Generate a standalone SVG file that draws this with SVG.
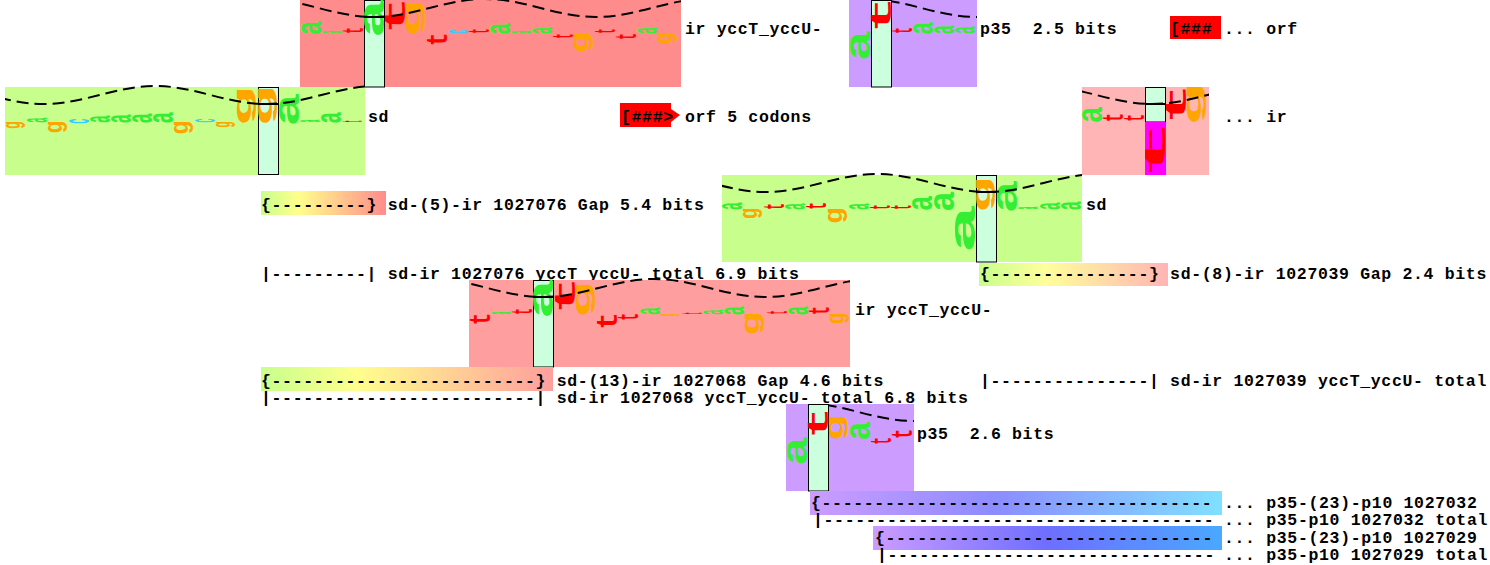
<svg xmlns="http://www.w3.org/2000/svg" width="1490" height="565" viewBox="0 0 1490 565">
<style>
.t{font-family:"Liberation Mono","Courier New",monospace;font-weight:bold;font-size:16.5px;letter-spacing:0.66px;fill:#000;white-space:pre}
.col{fill:#ccffdd;stroke:#000;stroke-width:1}
.wave{fill:none;stroke:#000;stroke-width:2;stroke-dasharray:12 6}
.zl{stroke:#000;stroke-width:2}
.lg{font-family:"Liberation Mono",monospace;font-weight:bold;font-size:10px}
symbol{overflow:visible}
.bg{fill:#c8ff8c}
.p1{fill:#ff8c8c}
.p2{fill:#ff9e9e}
.p3{fill:#ffb5b5}
.pu{fill:#cc9cff}
.orf{fill:#ff0000}
</style>
<defs>
<symbol id="A" viewBox="-5.4 -5.4 5.5 4.6" preserveAspectRatio="none"><text class="lg" fill="#33ee33" transform="rotate(-90)">a</text></symbol>
<symbol id="C" viewBox="-5.4 -5.4 5.5 4.6" preserveAspectRatio="none"><text class="lg" fill="#33ccff" transform="rotate(-90)">c</text></symbol>
<symbol id="G" viewBox="-5.4 -5.4 7.5 4.7" preserveAspectRatio="none"><text class="lg" fill="#ffa500" transform="rotate(-90)">g</text></symbol>
<symbol id="T" viewBox="-6.6 -5.4 6.7 4.9" preserveAspectRatio="none"><text class="lg" fill="#ff0000" transform="rotate(-90)">t</text></symbol>
<path id="wv" d="M-444,9 c20.1,0 37.4,-4.39 55.5,-9 c18.1,-4.61 35.4,-9 55.5,-9 c20.1,0 37.4,4.39 55.5,9 c18.1,4.61 35.4,9 55.5,9 c20.1,0 37.4,-4.39 55.5,-9 c18.1,-4.61 35.4,-9 55.5,-9 c20.1,0 37.4,4.39 55.5,9 c18.1,4.61 35.4,9 55.5,9 c20.1,0 37.4,-4.39 55.5,-9 c18.1,-4.61 35.4,-9 55.5,-9 c20.1,0 37.4,4.39 55.5,9 c18.1,4.61 35.4,9 55.5,9 c20.1,0 37.4,-4.39 55.5,-9 c18.1,-4.61 35.4,-9 55.5,-9 c20.1,0 37.4,4.39 55.5,9 c18.1,4.61 35.4,9 55.5,9"/>
<linearGradient id="gr1"><stop offset="0" stop-color="#c8ff8c"/><stop offset="0.3" stop-color="#ffff8c"/><stop offset="1" stop-color="#ff8c8c"/></linearGradient>
<linearGradient id="gr2"><stop offset="0" stop-color="#c8ff8c"/><stop offset="0.35" stop-color="#ffff9a"/><stop offset="1" stop-color="#ffb5b5"/></linearGradient>
<linearGradient id="gr3"><stop offset="0" stop-color="#c8ff8c"/><stop offset="0.33" stop-color="#ffff8c"/><stop offset="1" stop-color="#ff9e9e"/></linearGradient>
<linearGradient id="gr4"><stop offset="0" stop-color="#cc9cff"/><stop offset="0.45" stop-color="#8c8cff"/><stop offset="1" stop-color="#80e0ff"/></linearGradient>
<linearGradient id="gr5"><stop offset="0" stop-color="#cc9cff"/><stop offset="0.5" stop-color="#6e6eff"/><stop offset="1" stop-color="#4aa8ff"/></linearGradient>
<clipPath id="w1"><rect x="300" y="-5" width="381" height="92"/></clipPath>
<clipPath id="w2"><rect x="891" y="-5" width="86" height="92"/></clipPath>
<clipPath id="w3"><rect x="5" y="83" width="360" height="92"/></clipPath>
<clipPath id="w4"><rect x="1082" y="83" width="127" height="92"/></clipPath>
<clipPath id="w5"><rect x="722" y="171" width="360" height="91"/></clipPath>
<clipPath id="w6"><rect x="469" y="276" width="381" height="91"/></clipPath>
<clipPath id="w7"><rect x="828" y="400" width="86" height="91"/></clipPath>
</defs>

<g id="node-ir-1">
<rect class="p1" x="300" y="0" width="381" height="87"/>
<rect class="col" x="364.5" y="0.5" width="20" height="86.5"/>
<use href="#A" x="301" y="22" width="20" height="11"/>
<use href="#A" x="322" y="31" width="20" height="2"/>
<use href="#T" x="343" y="28" width="20" height="5"/>
<use href="#A" x="364" y="2" width="20" height="31"/>
<use href="#T" x="385" y="0" width="20" height="31"/>
<use href="#G" x="406" y="3" width="20" height="30"/>
<use href="#T" x="427" y="34" width="20" height="11"/>
<use href="#C" x="448" y="30" width="20" height="3"/>
<use href="#T" x="469" y="29" width="20" height="4"/>
<use href="#A" x="490" y="24" width="20" height="9"/>
<use href="#A" x="511" y="31" width="20" height="2"/>
<use href="#A" x="532" y="28" width="20" height="5"/>
<use href="#T" x="553" y="34" width="20" height="4"/>
<use href="#G" x="574" y="34" width="20" height="17"/>
<use href="#T" x="595" y="29" width="20" height="4"/>
<use href="#T" x="616" y="34" width="20" height="5"/>
<use href="#A" x="637" y="28" width="20" height="5"/>
<use href="#G" x="658" y="34" width="20" height="9"/>
<g clip-path="url(#w1)"><use href="#wv" class="wave" transform="translate(374,8)"/></g>
<line class="zl" x1="364" y1="17" x2="385" y2="17"/>
<text class="t" x="685" y="33.5">ir yccT_yccU-</text>
</g>

<g id="node-p35-1">
<rect class="pu" x="849" y="0" width="128" height="87"/>
<rect class="col" x="871.5" y="0.5" width="20" height="86.5"/>
<use href="#A" x="850" y="33" width="20" height="24"/>
<use href="#T" x="871" y="0" width="20" height="30"/>
<use href="#T" x="892" y="28" width="20" height="5"/>
<use href="#A" x="913" y="23" width="20" height="10"/>
<use href="#A" x="934" y="26" width="20" height="7"/>
<use href="#A" x="955" y="27" width="20" height="6"/>
<g clip-path="url(#w2)"><use href="#wv" class="wave" transform="translate(977,8)"/></g>
<text class="t" x="980" y="33.5" xml:space="preserve">p35  2.5 bits</text>
</g>

<g id="node-orf-1">
<rect class="orf" x="1170" y="16" width="51" height="23"/>
<text class="t" x="1170" y="33.5">[###</text>
<text class="t" x="1224" y="33.5">... orf</text>
</g>

<g id="node-sd-1">
<rect class="bg" x="5" y="87" width="360" height="88"/>
<rect class="col" x="258.5" y="87.5" width="20" height="87"/>
<use href="#G" x="6" y="122" width="20" height="6"/>
<use href="#A" x="27" y="118" width="20" height="4"/>
<use href="#G" x="48" y="122" width="20" height="10"/>
<use href="#C" x="69" y="119" width="20" height="4"/>
<use href="#A" x="90" y="116" width="20" height="6"/>
<use href="#A" x="111" y="115" width="20" height="7"/>
<use href="#A" x="132" y="114" width="20" height="8"/>
<use href="#A" x="153" y="113" width="20" height="9"/>
<use href="#G" x="174" y="122" width="20" height="11"/>
<use href="#C" x="195" y="119" width="20" height="3"/>
<use href="#G" x="216" y="122" width="20" height="5"/>
<use href="#G" x="237" y="90" width="20" height="32"/>
<use href="#G" x="258" y="89" width="20" height="33"/>
<use href="#A" x="279" y="96" width="20" height="26"/>
<use href="#A" x="300" y="120" width="20" height="2"/>
<use href="#A" x="321" y="113" width="20" height="9"/>
<use href="#T" x="342" y="120.5" width="20" height="1.5"/>
<g clip-path="url(#w3)"><use href="#wv" class="wave" transform="translate(266,95)"/></g>
<line class="zl" x1="258" y1="104" x2="279" y2="104"/>
<text class="t" x="368" y="121.5">sd</text>
</g>

<g id="node-orf-2">
<polygon class="orf" points="620,103 671,103 671,109 680,115 671,122 671,127 620,127"/>
<text class="t" x="621" y="121.5">[###&gt;</text>
<text class="t" x="685" y="121.5">orf 5 codons</text>
</g>

<g id="node-ir-2">
<rect class="p3" x="1082" y="87" width="127" height="88"/>
<rect class="col" x="1145.5" y="87.5" width="20" height="34.5"/>
<rect x="1145" y="122" width="21" height="53" fill="#ff00ff"/>
<use href="#A" x="1082" y="108" width="20" height="13"/>
<use href="#T" x="1103" y="114" width="20" height="7"/>
<use href="#T" x="1124" y="115" width="20" height="6"/>
<use href="#T" x="1145" y="124" width="20" height="51"/>
<use href="#T" x="1166" y="87" width="20" height="34"/>
<use href="#G" x="1187" y="87" width="20" height="34"/>
<g clip-path="url(#w4)"><use href="#wv" class="wave" transform="translate(1152,95)"/></g>
<line class="zl" x1="1145" y1="104" x2="1166" y2="104"/>
<text class="t" x="1224" y="121.5">... ir</text>
</g>

<g id="node-gap-1">
<rect x="261" y="191" width="125" height="24" fill="url(#gr1)"/>
<text class="t" x="261" y="210">{---------} sd-(5)-ir 1027076 Gap 5.4 bits</text>
</g>

<g id="node-sd-2">
<rect class="bg" x="722" y="175" width="360" height="87"/>
<rect class="col" x="976.5" y="175.5" width="20" height="86.5"/>
<use href="#A" x="722" y="203" width="20" height="6"/>
<use href="#G" x="743" y="209" width="20" height="9"/>
<use href="#T" x="764" y="204" width="20" height="5"/>
<use href="#A" x="785" y="204" width="20" height="5"/>
<use href="#T" x="806" y="203" width="20" height="6"/>
<use href="#G" x="828" y="209" width="20" height="13"/>
<use href="#A" x="849" y="204" width="20" height="5"/>
<use href="#T" x="870" y="205" width="20" height="4"/>
<use href="#T" x="891" y="205" width="20" height="4"/>
<use href="#A" x="912" y="197" width="20" height="12"/>
<use href="#A" x="934" y="193" width="20" height="16"/>
<use href="#A" x="955" y="209" width="20" height="38"/>
<use href="#G" x="976" y="180" width="20" height="29"/>
<use href="#A" x="997" y="183" width="20" height="26"/>
<use href="#A" x="1018" y="207" width="20" height="2"/>
<use href="#A" x="1040" y="203" width="20" height="6"/>
<use href="#A" x="1061" y="202" width="20" height="7"/>
<g clip-path="url(#w5)"><use href="#wv" class="wave" transform="translate(988,183)"/></g>
<line class="zl" x1="976" y1="192" x2="997" y2="192"/>
<text class="t" x="1086" y="210">sd</text>
</g>

<g id="node-total-1">
<text class="t" x="261" y="279">|---------| sd-ir 1027076 yccT_yccU-_total 6.9 bits</text>
</g>

<g id="node-gap-2">
<rect x="979" y="263" width="189" height="23" fill="url(#gr2)"/>
<text class="t" x="980" y="279">{---------------} sd-(8)-ir 1027039 Gap 2.4 bits</text>
</g>

<g id="node-ir-3">
<rect class="p2" x="469" y="280" width="381" height="87"/>
<rect class="col" x="533.5" y="280.5" width="20" height="86.5"/>
<use href="#T" x="470" y="314" width="20" height="10"/>
<use href="#A" x="491" y="312" width="20" height="2"/>
<use href="#T" x="512" y="309" width="20" height="5"/>
<use href="#A" x="533" y="282" width="20" height="32"/>
<use href="#T" x="555" y="280" width="20" height="31"/>
<use href="#G" x="576" y="285" width="20" height="29"/>
<use href="#T" x="597" y="314" width="20" height="14"/>
<use href="#T" x="618" y="314" width="20" height="6"/>
<use href="#A" x="640" y="308" width="20" height="6"/>
<use href="#G" x="661" y="314" width="20" height="2"/>
<use href="#T" x="682" y="312.5" width="20" height="1.5"/>
<use href="#A" x="703" y="310" width="20" height="4"/>
<use href="#A" x="724" y="307" width="20" height="7"/>
<use href="#G" x="745" y="314" width="20" height="19"/>
<use href="#T" x="767" y="311" width="20" height="3"/>
<use href="#A" x="788" y="307" width="20" height="7"/>
<use href="#T" x="809" y="307" width="20" height="7"/>
<use href="#G" x="830" y="314" width="20" height="9"/>
<g clip-path="url(#w6)"><use href="#wv" class="wave" transform="translate(543,288)"/></g>
<line class="zl" x1="533" y1="297" x2="554" y2="297"/>
<text class="t" x="855" y="315">ir yccT_yccU-</text>
</g>

<g id="node-gap-3">
<rect x="261" y="367" width="292" height="24" fill="url(#gr3)"/>
<text class="t" x="261" y="386">{-------------------------} sd-(13)-ir 1027068 Gap 4.6 bits</text>
</g>

<g id="node-total-2">
<text class="t" x="980" y="386">|---------------| sd-ir 1027039 yccT_yccU- total</text>
</g>

<g id="node-total-3">
<text class="t" x="261" y="403">|-------------------------| sd-ir 1027068 yccT_yccU-_total 6.8 bits</text>
</g>

<g id="node-p35-2">
<rect class="pu" x="786" y="404" width="128" height="87"/>
<rect class="col" x="808.5" y="404.5" width="20" height="86.5"/>
<use href="#A" x="787" y="439" width="20" height="23"/>
<use href="#T" x="808" y="410" width="20" height="26"/>
<use href="#G" x="829" y="417" width="20" height="21"/>
<use href="#A" x="850" y="423" width="20" height="15"/>
<use href="#T" x="871" y="438" width="20" height="6"/>
<use href="#T" x="892" y="430" width="20" height="8"/>
<g clip-path="url(#w7)"><use href="#wv" class="wave" transform="translate(914,412)"/></g>
<text class="t" x="917" y="438.5" xml:space="preserve">p35  2.6 bits</text>
</g>

<g id="node-gap-4">
<rect x="810" y="491" width="412" height="24" fill="url(#gr4)"/>
<text class="t" x="811" y="508">{-------------------------------------</text>
<text class="t" x="1224" y="508">... p35-(23)-p10 1027032</text>
</g>

<g id="node-total-4">
<text class="t" x="813" y="525">|-------------------------------------</text>
<text class="t" x="1224" y="525">... p35-p10 1027032 total</text>
</g>

<g id="node-gap-5">
<rect x="873" y="526" width="349" height="24" fill="url(#gr5)"/>
<text class="t" x="875" y="543">{-------------------------------</text>
<text class="t" x="1224" y="543">... p35-(23)-p10 1027029</text>
</g>

<g id="node-total-5">
<text class="t" x="877" y="560">|-------------------------------</text>
<text class="t" x="1224" y="560">... p35-p10 1027029 total</text>
</g>

<g id="connectors"></g>
</svg>
